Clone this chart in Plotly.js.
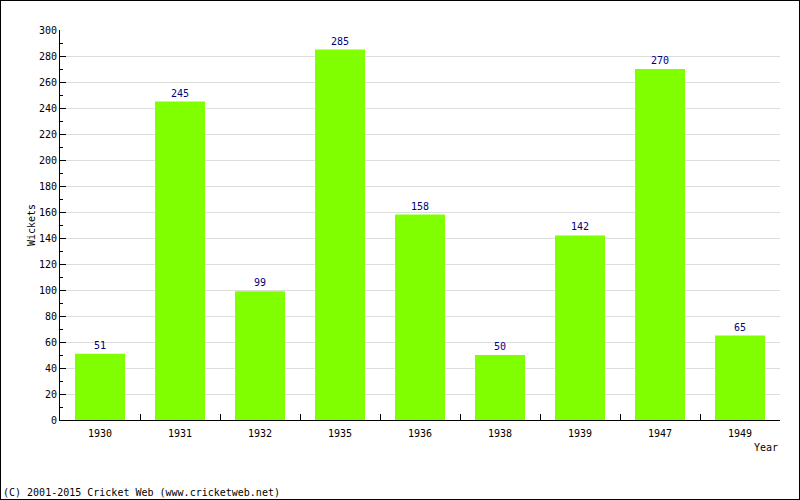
<!DOCTYPE html>
<html><head><meta charset="utf-8">
<script src="https://cdn.plot.ly/plotly-3.0.1.min.js"></script>
<style>html,body{margin:0;padding:0;background:#fff}#c{width:798px;height:498px;border:1px solid #000}</style>
</head><body><div id="c"></div>
<script>
var years = ['1930','1931','1932','1935','1936','1938','1939','1947','1949'];
var wickets = [51,245,99,285,158,50,142,270,65];
var yTicks = [0,20,40,60,80,100,120,140,160,180,200,220,240,260,280,300];
var font = {family:'DejaVu Sans Mono, monospace', size:10, color:'#000'};
Plotly.newPlot('c',[{
  type:'bar', x:years, y:wickets, marker:{color:'#80ff00'},
  text:wickets.map(String), textposition:'outside', cliponaxis:false,
  textfont:{family:'DejaVu Sans Mono, monospace', size:10, color:'#000080'},
  hoverinfo:'none'
}],{
  width:798, height:498, margin:{l:59,r:19,t:29,b:79},
  paper_bgcolor:'#fff', plot_bgcolor:'#fff', font:font, showlegend:false,
  bargap:0.375,
  xaxis:{type:'category', showline:true, linecolor:'#000', linewidth:1, ticks:'inside', tickson:'boundaries', ticklen:6, tickcolor:'#000', showgrid:false, tickfont:font, ticklabelstandoff:4, fixedrange:true},
  yaxis:{range:[0,300], tickvals:yTicks, showline:true, linecolor:'#000', linewidth:1, ticks:'inside', ticklen:6, tickcolor:'#000', gridcolor:'#dddddd', zeroline:false, tickfont:font,
    minor:{dtick:10, ticks:'inside', ticklen:3, tickcolor:'#000', showgrid:false},
    title:{text:'Wickets', font:font, standoff:1}},
  annotations:[
    {xref:'paper', yref:'paper', x:1, y:-0.05, xanchor:'right', yanchor:'top', text:'Year', showarrow:false, font:font},
    {xref:'paper', yref:'paper', x:-59/720, y:-72/390, xanchor:'left', yanchor:'middle', text:'(C) 2001-2015 Cricket Web (www.cricketweb.net)', showarrow:false, font:font}
  ]
},{staticPlot:true});
</script></body></html>
